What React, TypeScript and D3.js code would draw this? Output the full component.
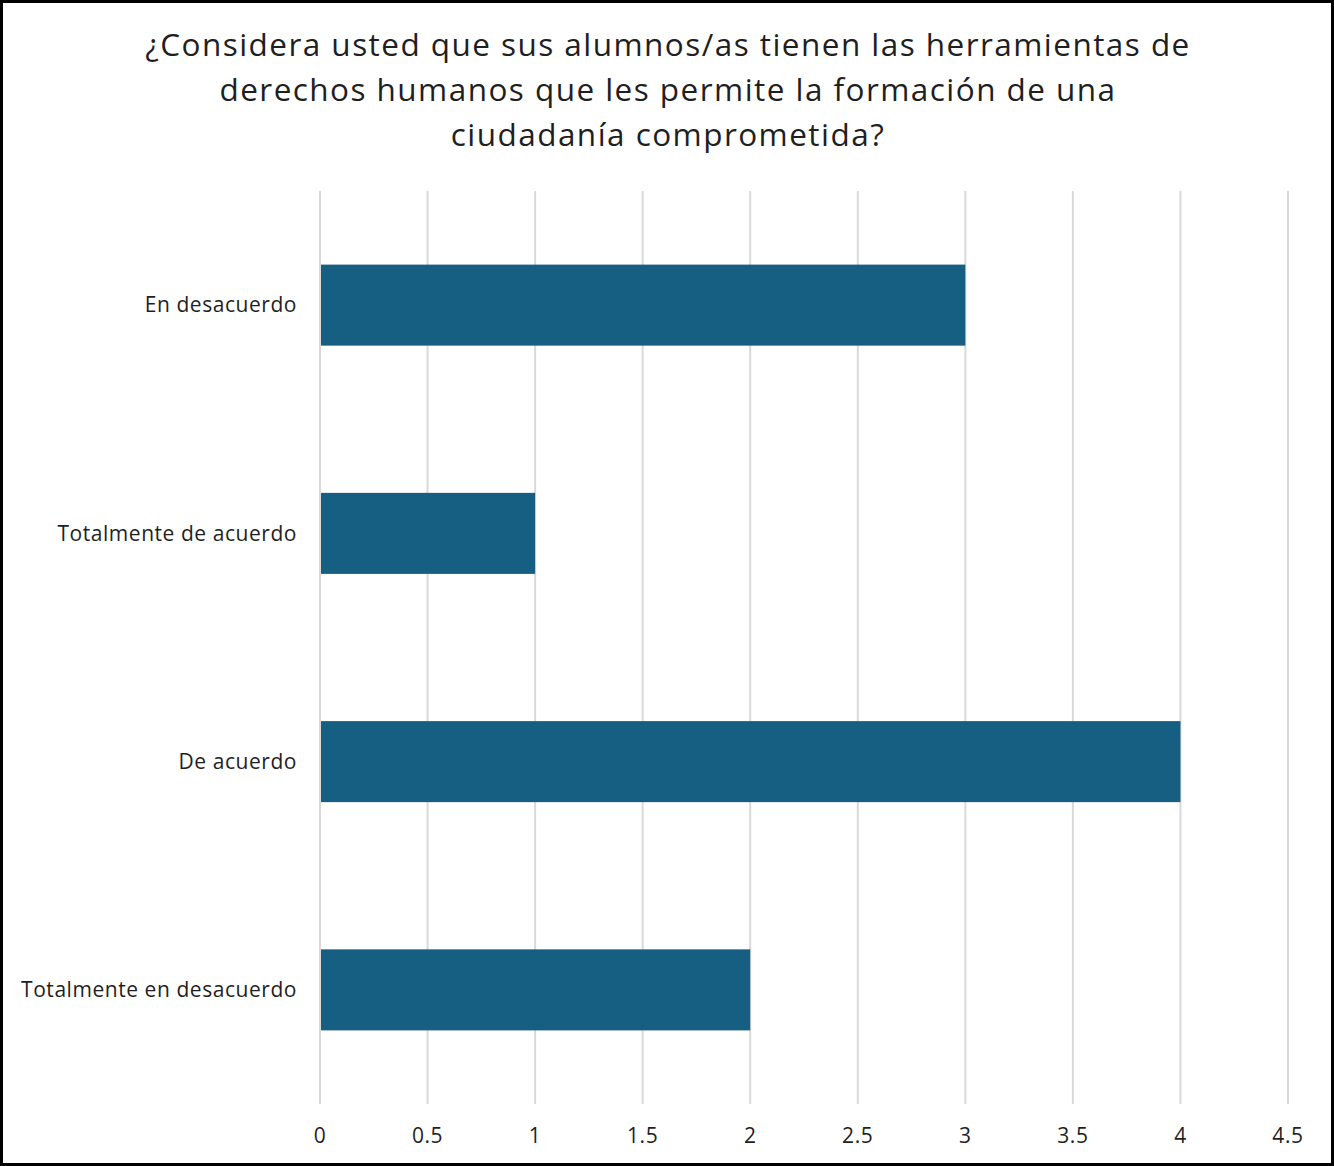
import React from "react";
import * as d3 from "d3";

const categories = ["En desacuerdo", "Totalmente de acuerdo", "De acuerdo", "Totalmente en desacuerdo"];
const values = [3, 1, 4, 2];
const ticks = [0, 0.5, 1, 1.5, 2, 2.5, 3, 3.5, 4, 4.5];
const titleLines = [
  "¿Considera usted que sus alumnos/as tienen las herramientas de",
  "derechos humanos que les permite la formación de una",
  "ciudadanía comprometida?",
];

const W = 1334;
const H = 1166;
const FONT = "'Open Sans', sans-serif";

export default function App() {
  const x = d3.scaleLinear().domain([0, 4.5]).range([320, 1288]);
  const y = d3
    .scaleBand<string>()
    .domain(categories)
    .range([191, 1104])
    .paddingInner(0.645)
    .paddingOuter(0.3225);

  return (
    <svg
      width={W}
      height={H}
      style={{ position: "absolute", left: 0, top: 0, background: "#fff" }}
      fontFamily={FONT}
    >
      <rect x={1.5} y={1.5} width={W - 3} height={H - 3} fill="#fff" stroke="#000" strokeWidth={3} />
      {titleLines.map((t, i) => (
        <text key={i} x={668} y={56 + i * 45} textAnchor="middle" fontSize={31.5} letterSpacing={1.45} fill="#1f1f1f">
          {t}
        </text>
      ))}
      {ticks.map((t) => (
        <line key={t} x1={x(t)} x2={x(t)} y1={191} y2={1104} stroke="#d9d9d9" strokeWidth={2} />
      ))}
      {categories.map((c, i) => (
        <g key={c}>
          <rect
            x={x(0) + 1}
            y={y(c)!}
            width={x(values[i]) - x(0) - 1}
            height={y.bandwidth()}
            fill="#175F82"
          />
          <text
            x={297}
            y={y(c)! + y.bandwidth() / 2}
            dy="0.35em"
            textAnchor="end"
            fontSize={21}
            letterSpacing={0.55}
            fill="#1f1f1f"
          >
            {c}
          </text>
        </g>
      ))}
      {ticks.map((t) => (
        <text key={t} x={x(t)} y={1143} textAnchor="middle" fontSize={21} letterSpacing={0.6} fill="#1f1f1f">
          {String(t)}
        </text>
      ))}
    </svg>
  );
}
